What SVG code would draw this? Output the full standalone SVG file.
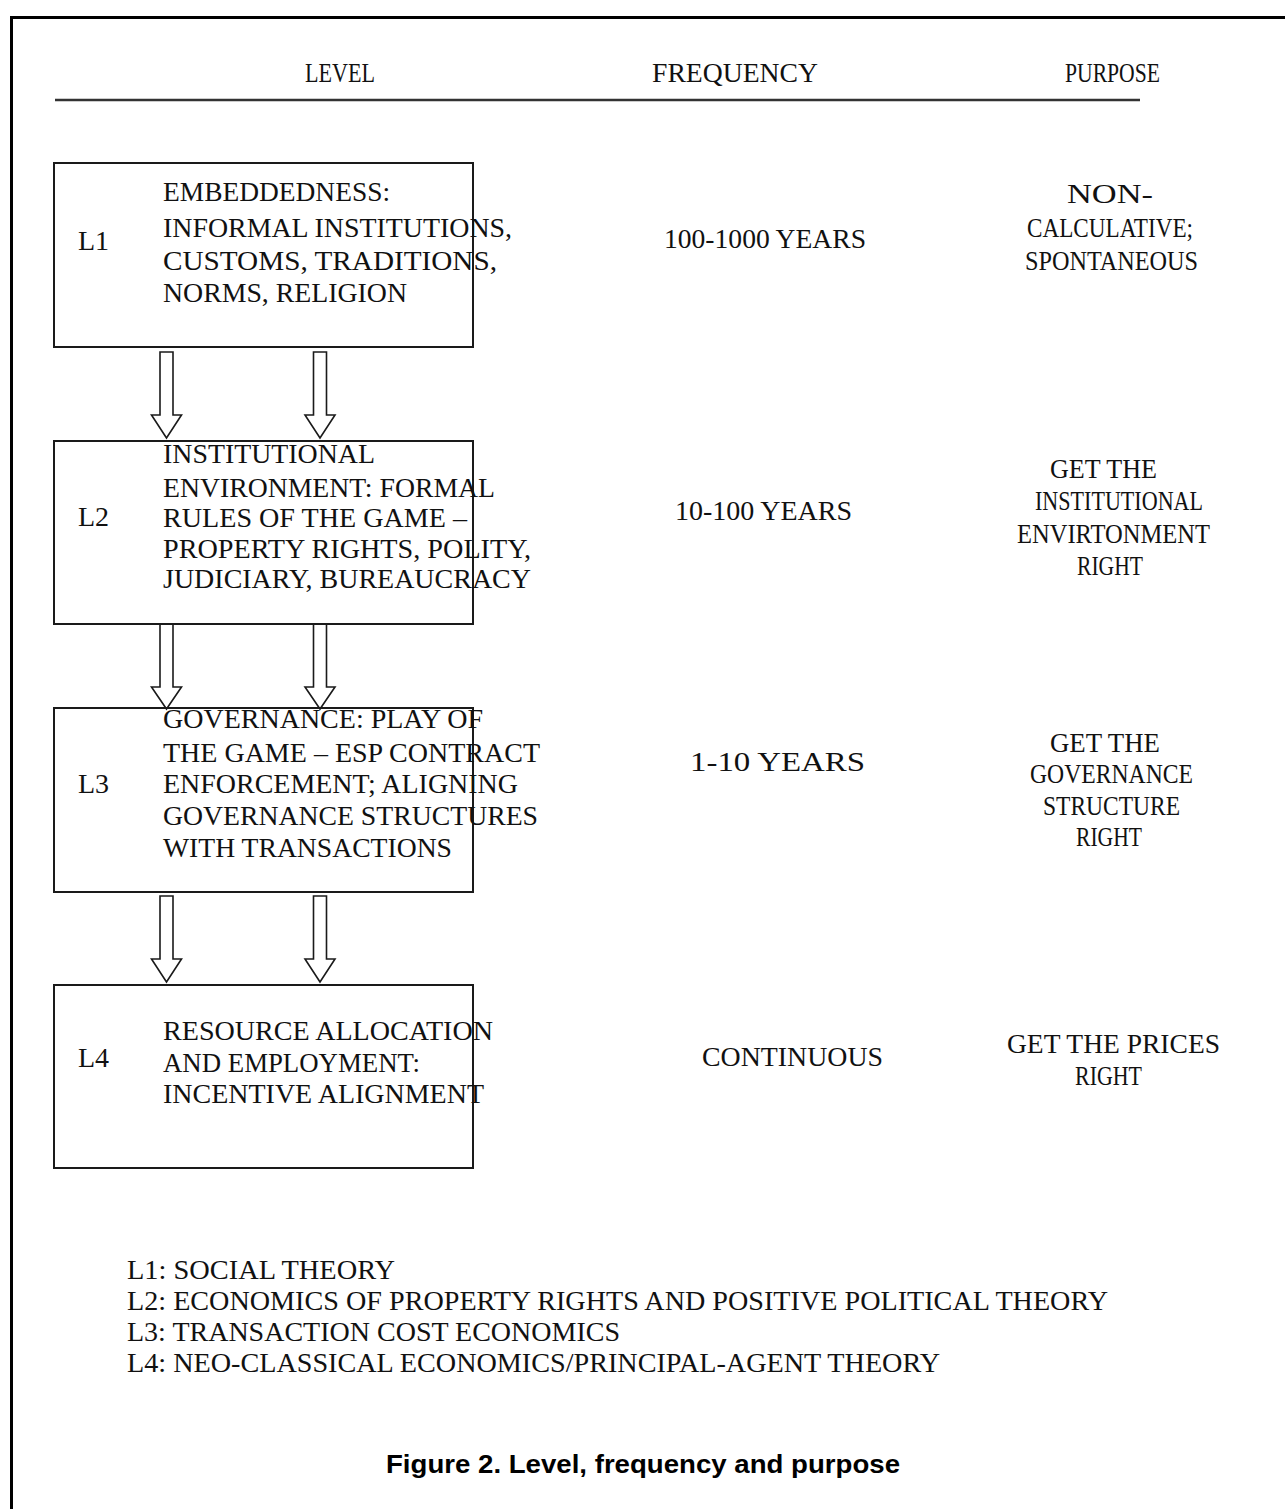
<svg xmlns="http://www.w3.org/2000/svg" width="1285" height="1509" viewBox="0 0 1285 1509">
<style>
.t{font-family:"Liberation Serif","Times New Roman",serif;font-size:28px;fill:#111}
.h{font-family:"Liberation Serif","Times New Roman",serif;font-size:27px;fill:#111}
.cap{font-family:"Liberation Sans",Arial,sans-serif;font-size:26px;font-weight:bold;fill:#000;text-anchor:middle}
.box{fill:none;stroke:#1a1a1a;stroke-width:2}
.arr{fill:#fff;stroke:#1a1a1a;stroke-width:1.6;stroke-linejoin:miter}
</style>
<defs>
<path id="a1" d="M-6.5,0 H6.5 V63 H15 L0,86 L-15,63 H-6.5 Z"/>
</defs>
<rect width="1285" height="1509" fill="#fff"/>
<g id="frame">
<line x1="11" y1="17.5" x2="1285" y2="17.5" stroke="#000" stroke-width="3"/>
<line x1="11.5" y1="16" x2="11.5" y2="1509" stroke="#000" stroke-width="3"/>
</g>
<g id="header">
<text class="h" x="305" y="82" textLength="70" lengthAdjust="spacingAndGlyphs">LEVEL</text>
<text class="h" x="652" y="82" textLength="166" lengthAdjust="spacingAndGlyphs">FREQUENCY</text>
<text class="h" x="1065" y="82" textLength="95" lengthAdjust="spacingAndGlyphs">PURPOSE</text>
<line x1="55" y1="100" x2="1140" y2="100" stroke="#333" stroke-width="2.5"/>
</g>
<g id="connectors">
<use href="#a1" x="166.5" y="352" class="arr"/>
<use href="#a1" x="320" y="352" class="arr"/>
<g transform="translate(166.5,624)"><path class="arr" d="M-6.5,0 V63 H-15 L0,85 L15,63 H6.5 V0"/></g>
<g transform="translate(320,624)"><path class="arr" d="M-6.5,0 V63 H-15 L0,85 L15,63 H6.5 V0"/></g>
<use href="#a1" x="166.5" y="896" class="arr"/>
<use href="#a1" x="320" y="896" class="arr"/>
</g>
<g id="L1">
<rect class="box" x="54" y="163" width="419" height="184"/>
<text class="t" x="78" y="250">L1</text>
<text class="t" x="163" y="201" textLength="227" lengthAdjust="spacingAndGlyphs">EMBEDDEDNESS:</text>
<text class="t" x="163" y="237" textLength="349" lengthAdjust="spacingAndGlyphs">INFORMAL INSTITUTIONS,</text>
<text class="t" x="163" y="270" textLength="334" lengthAdjust="spacingAndGlyphs">CUSTOMS, TRADITIONS,</text>
<text class="t" x="163" y="302" textLength="244" lengthAdjust="spacingAndGlyphs">NORMS, RELIGION</text>
</g>
<g id="L2">
<rect class="box" x="54" y="441" width="419" height="183"/>
<text class="t" x="78" y="526">L2</text>
<text class="t" x="163" y="463" textLength="212" lengthAdjust="spacingAndGlyphs">INSTITUTIONAL</text>
<text class="t" x="163" y="497" textLength="332" lengthAdjust="spacingAndGlyphs">ENVIRONMENT: FORMAL</text>
<text class="t" x="163" y="527" textLength="304" lengthAdjust="spacingAndGlyphs">RULES OF THE GAME –</text>
<text class="t" x="163" y="558" textLength="368" lengthAdjust="spacingAndGlyphs">PROPERTY RIGHTS, POLITY,</text>
<text class="t" x="163" y="588" textLength="368" lengthAdjust="spacingAndGlyphs">JUDICIARY, BUREAUCRACY</text>
</g>
<g id="L3">
<rect class="box" x="54" y="708" width="419" height="184"/>
<text class="t" x="78" y="793">L3</text>
<text class="t" x="163" y="728" textLength="320" lengthAdjust="spacingAndGlyphs">GOVERNANCE: PLAY OF</text>
<text class="t" x="163" y="762" textLength="377" lengthAdjust="spacingAndGlyphs">THE GAME – ESP CONTRACT</text>
<text class="t" x="163" y="793" textLength="355" lengthAdjust="spacingAndGlyphs">ENFORCEMENT; ALIGNING</text>
<text class="t" x="163" y="825" textLength="375" lengthAdjust="spacingAndGlyphs">GOVERNANCE STRUCTURES</text>
<text class="t" x="163" y="857" textLength="289" lengthAdjust="spacingAndGlyphs">WITH TRANSACTIONS</text>
</g>
<g id="L4">
<rect class="box" x="54" y="985" width="419" height="183"/>
<text class="t" x="78" y="1067">L4</text>
<text class="t" x="163" y="1040" textLength="330" lengthAdjust="spacingAndGlyphs">RESOURCE ALLOCATION</text>
<text class="t" x="163" y="1072" textLength="257" lengthAdjust="spacingAndGlyphs">AND EMPLOYMENT:</text>
<text class="t" x="163" y="1103" textLength="321" lengthAdjust="spacingAndGlyphs">INCENTIVE ALIGNMENT</text>
</g>
<g id="frequency">
<text class="t" x="664" y="248" textLength="202" lengthAdjust="spacingAndGlyphs">100-1000 YEARS</text>
<text class="t" x="675" y="520" textLength="177" lengthAdjust="spacingAndGlyphs">10-100 YEARS</text>
<text class="t" x="690" y="771" textLength="175" lengthAdjust="spacingAndGlyphs">1-10 YEARS</text>
<text class="t" x="702" y="1066" textLength="181" lengthAdjust="spacingAndGlyphs">CONTINUOUS</text>
</g>
<g id="purpose">
<text class="t" x="1067" y="203" textLength="86" lengthAdjust="spacingAndGlyphs">NON-</text>
<text class="t" x="1027" y="237" textLength="166" lengthAdjust="spacingAndGlyphs">CALCULATIVE;</text>
<text class="t" x="1025" y="270" textLength="173" lengthAdjust="spacingAndGlyphs">SPONTANEOUS</text>
<text class="t" x="1050" y="478" textLength="107" lengthAdjust="spacingAndGlyphs">GET THE</text>
<text class="t" x="1035" y="510" textLength="168" lengthAdjust="spacingAndGlyphs">INSTITUTIONAL</text>
<text class="t" x="1017" y="543" textLength="193" lengthAdjust="spacingAndGlyphs">ENVIRTONMENT</text>
<text class="t" x="1077" y="575" textLength="66" lengthAdjust="spacingAndGlyphs">RIGHT</text>
<text class="t" x="1050" y="752" textLength="110" lengthAdjust="spacingAndGlyphs">GET THE</text>
<text class="t" x="1030" y="783" textLength="163" lengthAdjust="spacingAndGlyphs">GOVERNANCE</text>
<text class="t" x="1043" y="815" textLength="137" lengthAdjust="spacingAndGlyphs">STRUCTURE</text>
<text class="t" x="1076" y="846" textLength="66" lengthAdjust="spacingAndGlyphs">RIGHT</text>
<text class="t" x="1007" y="1053" textLength="213" lengthAdjust="spacingAndGlyphs">GET THE PRICES</text>
<text class="t" x="1075" y="1085" textLength="67" lengthAdjust="spacingAndGlyphs">RIGHT</text>
</g>
<g id="legend">
<text class="t" x="127" y="1279" textLength="268" lengthAdjust="spacingAndGlyphs">L1: SOCIAL THEORY</text>
<text class="t" x="127" y="1310" textLength="981" lengthAdjust="spacingAndGlyphs">L2: ECONOMICS OF PROPERTY RIGHTS AND POSITIVE POLITICAL THEORY</text>
<text class="t" x="127" y="1341" textLength="493" lengthAdjust="spacingAndGlyphs">L3: TRANSACTION COST ECONOMICS</text>
<text class="t" x="127" y="1372" textLength="813" lengthAdjust="spacingAndGlyphs">L4: NEO-CLASSICAL ECONOMICS/PRINCIPAL-AGENT THEORY</text>
</g>
<g id="caption">
<text class="cap" x="643" y="1473" textLength="514" lengthAdjust="spacingAndGlyphs">Figure 2. Level, frequency and purpose</text>
</g>
</svg>
